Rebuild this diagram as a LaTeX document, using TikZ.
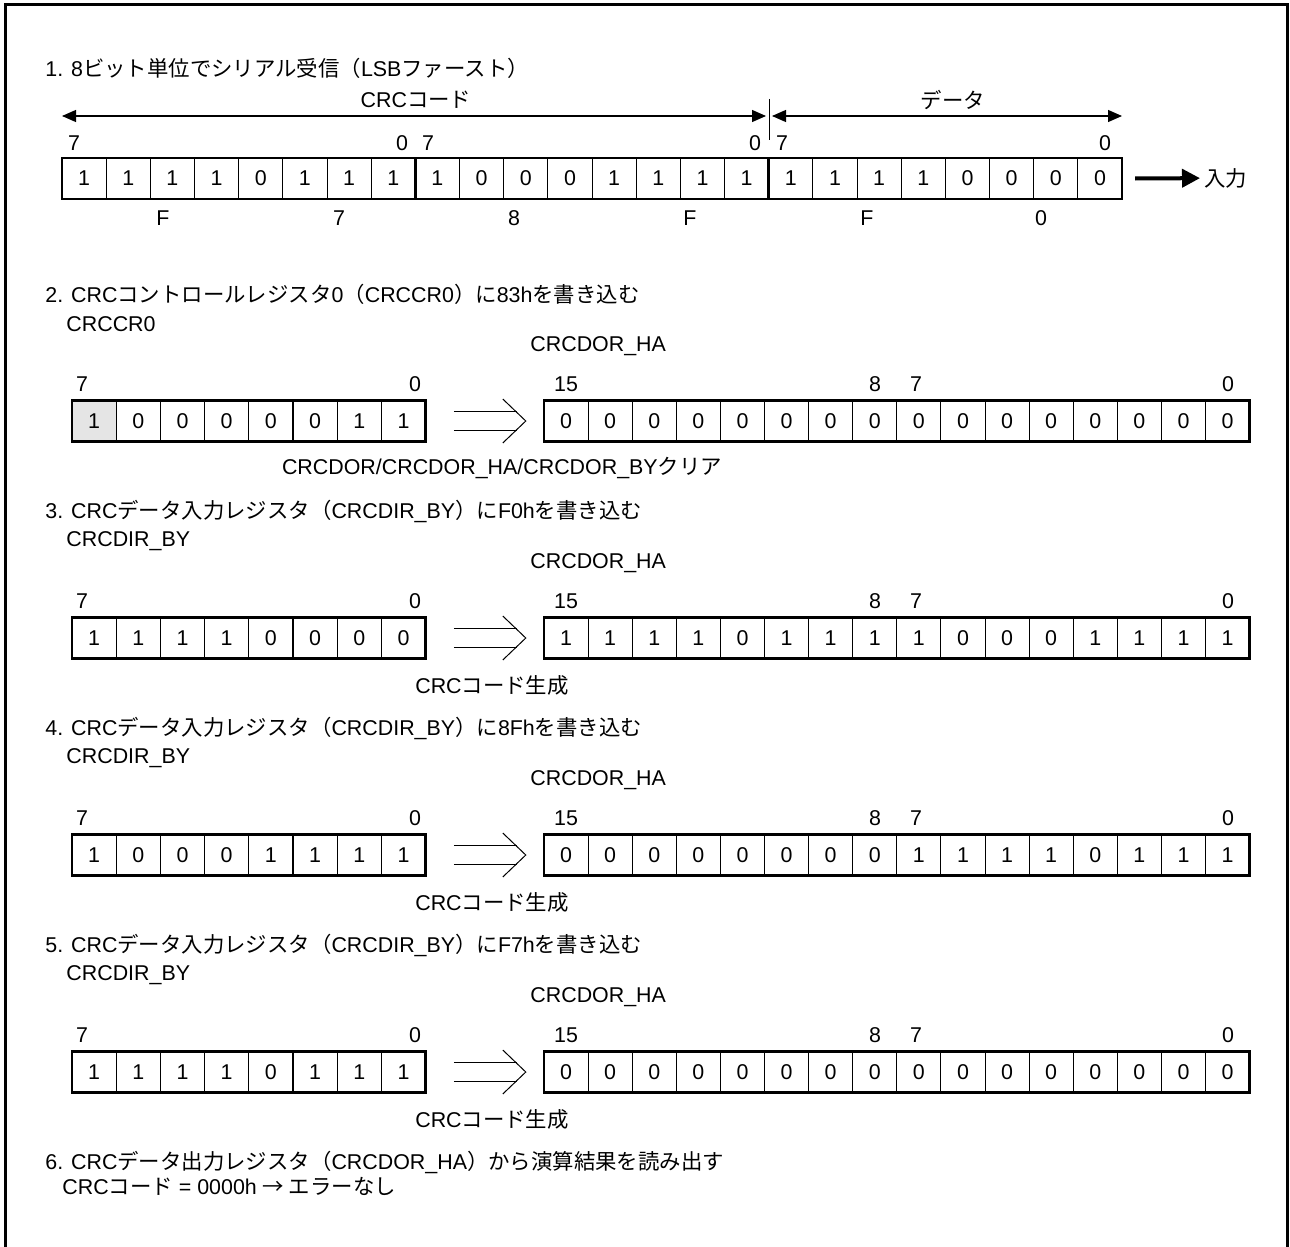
\documentclass[tikz,border=0pt]{standalone}
\usepackage{fontspec}
\setmainfont{Liberation Sans}
\newfontfamily\jpfont{Noto Sans CJK JP}
\newcommand{\jp}[1]{{\jpfont #1}}
\usetikzlibrary{arrows.meta, positioning, calc}

\begin{document}
\begin{tikzpicture}[x=0.5pt, y=-0.5pt,
    font=\fontsize{10.7}{12.8}\selectfont,
    heading/.style={anchor=west, inner sep=0pt},
    regname/.style={anchor=west, inner sep=0pt},
    bitnum/.style={inner sep=0pt},
    bitcell/.style={draw, line width=0.5pt, anchor=west, inner sep=0pt, outer sep=0pt,
                    minimum width=22.08pt, minimum height=20.5pt},
    regframe/.style={line width=1.3pt},
    dimarrow/.style={line width=0.6pt,
                     {Triangle[length=7pt,width=6pt]}-{Triangle[length=7pt,width=6pt]}},
    inarrow/.style={line width=2pt, -{Triangle[length=9pt,width=9pt]}, shorten >=2pt},
    thinline/.style={line width=0.5pt}
]
    \useasboundingbox (0,0) rectangle (1290,1247);

    % --- outer frame ---
    \draw[line width=1.5pt] (5,1247) -- (5,5) -- (1287,5) -- (1287,1247);

    % --- 1. serial receive ---
    \node[heading] (t1) at (45,68) {1. 8\jp{ビット単位でシリアル受信（}LSB\jp{ファースト）}};
    \foreach \v [count=\i from 0] in {1,1,1,1,0,1,1,1,1,0,0,0,1,1,1,1,1,1,1,1,0,0,0,0}
        \node[bitcell] (s1-\i) at (62+44.17*\i,178.5) {\v};
    \draw[regframe] (s1-0.north west) rectangle (s1-23.south east);
    \draw[regframe] (s1-8.north west) -- (s1-8.south west);
    \draw[regframe] (s1-16.north west) -- (s1-16.south west);

    \node[bitnum] (s1-b7a) at (74,143) {7};
    \node[bitnum] (s1-b0a) at (402,143) {0};
    \node[bitnum] (s1-b7b) at (428,143) {7};
    \node[bitnum] (s1-b0b) at (755,143) {0};
    \node[bitnum] (s1-b7c) at (782,143) {7};
    \node[bitnum] (s1-b0c) at (1105,143) {0};

    \node[bitnum] (s1-h1) at (163,218) {F};
    \node[bitnum] (s1-h2) at (339,218) {7};
    \node[bitnum] (s1-h3) at (514,218) {8};
    \node[bitnum] (s1-h4) at (690,218) {F};
    \node[bitnum] (s1-h5) at (867,218) {F};
    \node[bitnum] (s1-h6) at (1041,218) {0};

    \coordinate (crcL) at (62,116);
    \coordinate (crcR) at (766,116);
    \coordinate (datL) at (772,116);
    \coordinate (datR) at (1122,116);
    \draw[dimarrow] (crcL) -- (crcR);
    \draw[dimarrow] (datL) -- (datR);
    \draw[thinline] (769,99) -- (769,140);
    \node[bitnum] (crc) at (416,100) {CRC\jp{コード}};
    \node[bitnum] (dat) at (953,100) {\jp{データ}};

    \node[regname] (in) at (1204,178) {\jp{入力}};
    \draw[inarrow] ([shift={(13,0)}]s1-23.east) -- (in);

    % --- 2. CRCCR0 <- 83h ---
    \node[heading] (t2) at (45,294) {2. CRC\jp{コントロールレジスタ}0\jp{（}CRCCR0\jp{）に}83h\jp{を書き込む}};
    \node[regname] (n2l) at (66,324) {CRCCR0};
    \node[regname] (n2r) at (530,346) {CRCDOR\_HA};
    \node[bitcell, fill=black!10] (l2-0) at (72,421) {1};
    \foreach \v [count=\i from 1] in {0,0,0,0,0,1,1}
        \node[bitcell] (l2-\i) at (72+44.2*\i,421) {\v};
    \foreach \v [count=\i from 0] in {0,0,0,0,0,0,0,0,0,0,0,0,0,0,0,0}
        \node[bitcell] (r2-\i) at (544+44.1*\i,421) {\v};
    \draw[regframe] (l2-0.north west) rectangle (l2-7.south east);
    \draw[regframe] (r2-0.north west) rectangle (r2-15.south east);
    \node[bitnum] (l2-b7) at (82,384) {7};
    \node[bitnum] (l2-b0) at (415,384) {0};
    \node[bitnum] (r2-b15) at (566,384) {15};
    \node[bitnum] (r2-b8) at (875,384) {8};
    \node[bitnum] (r2-b7) at (916,384) {7};
    \node[bitnum] (r2-b0) at (1228,384) {0};
    \coordinate (a2) at ($(l2-7.east)!0.5!(r2-0.west)$);
    \draw[thinline] ([shift={(-31,-9.5)}]a2) -- ++(63,0);
    \draw[thinline] ([shift={(-31,9.5)}]a2) -- ++(63,0);
    \draw[thinline] ([shift={(18,-22)}]a2) -- ++(23,22) -- ++(-23,22);
    \node[bitnum] (m2) at (502,468) {CRCDOR/CRCDOR\_HA/CRCDOR\_BY\jp{クリア}};

    % --- 3. CRCDIR_BY <- F0h ---
    \node[heading] (t3) at (45,511) {3. CRC\jp{データ入力レジスタ（}CRCDIR\_BY\jp{）に}F0h\jp{を書き込む}};
    \node[regname] (n3l) at (66,541) {CRCDIR\_BY};
    \node[regname] (n3r) at (530,563) {CRCDOR\_HA};
    \foreach \v [count=\i from 0] in {1,1,1,1,0,0,0,0}
        \node[bitcell] (l3-\i) at (72+44.2*\i,638) {\v};
    \foreach \v [count=\i from 0] in {1,1,1,1,0,1,1,1,1,0,0,0,1,1,1,1}
        \node[bitcell] (r3-\i) at (544+44.1*\i,638) {\v};
    \draw[regframe] (l3-0.north west) rectangle (l3-7.south east);
    \draw[regframe] (r3-0.north west) rectangle (r3-15.south east);
    \node[bitnum] (l3-b7) at (82,601) {7};
    \node[bitnum] (l3-b0) at (415,601) {0};
    \node[bitnum] (r3-b15) at (566,601) {15};
    \node[bitnum] (r3-b8) at (875,601) {8};
    \node[bitnum] (r3-b7) at (916,601) {7};
    \node[bitnum] (r3-b0) at (1228,601) {0};
    \coordinate (a3) at ($(l3-7.east)!0.5!(r3-0.west)$);
    \draw[thinline] ([shift={(-31,-9.5)}]a3) -- ++(63,0);
    \draw[thinline] ([shift={(-31,9.5)}]a3) -- ++(63,0);
    \draw[thinline] ([shift={(18,-22)}]a3) -- ++(23,22) -- ++(-23,22);
    \node[bitnum] (m3) at (492,685) {CRC\jp{コード生成}};

    % --- 4. CRCDIR_BY <- 8Fh ---
    \node[heading] (t4) at (45,728) {4. CRC\jp{データ入力レジスタ（}CRCDIR\_BY\jp{）に}8Fh\jp{を書き込む}};
    \node[regname] (n4l) at (66,758) {CRCDIR\_BY};
    \node[regname] (n4r) at (530,780) {CRCDOR\_HA};
    \foreach \v [count=\i from 0] in {1,0,0,0,1,1,1,1}
        \node[bitcell] (l4-\i) at (72+44.2*\i,855) {\v};
    \foreach \v [count=\i from 0] in {0,0,0,0,0,0,0,0,1,1,1,1,0,1,1,1}
        \node[bitcell] (r4-\i) at (544+44.1*\i,855) {\v};
    \draw[regframe] (l4-0.north west) rectangle (l4-7.south east);
    \draw[regframe] (r4-0.north west) rectangle (r4-15.south east);
    \node[bitnum] (l4-b7) at (82,818) {7};
    \node[bitnum] (l4-b0) at (415,818) {0};
    \node[bitnum] (r4-b15) at (566,818) {15};
    \node[bitnum] (r4-b8) at (875,818) {8};
    \node[bitnum] (r4-b7) at (916,818) {7};
    \node[bitnum] (r4-b0) at (1228,818) {0};
    \coordinate (a4) at ($(l4-7.east)!0.5!(r4-0.west)$);
    \draw[thinline] ([shift={(-31,-9.5)}]a4) -- ++(63,0);
    \draw[thinline] ([shift={(-31,9.5)}]a4) -- ++(63,0);
    \draw[thinline] ([shift={(18,-22)}]a4) -- ++(23,22) -- ++(-23,22);
    \node[bitnum] (m4) at (492,902) {CRC\jp{コード生成}};

    % --- 5. CRCDIR_BY <- F7h ---
    \node[heading] (t5) at (45,945) {5. CRC\jp{データ入力レジスタ（}CRCDIR\_BY\jp{）に}F7h\jp{を書き込む}};
    \node[regname] (n5l) at (66,975) {CRCDIR\_BY};
    \node[regname] (n5r) at (530,997) {CRCDOR\_HA};
    \foreach \v [count=\i from 0] in {1,1,1,1,0,1,1,1}
        \node[bitcell] (l5-\i) at (72+44.2*\i,1072) {\v};
    \foreach \v [count=\i from 0] in {0,0,0,0,0,0,0,0,0,0,0,0,0,0,0,0}
        \node[bitcell] (r5-\i) at (544+44.1*\i,1072) {\v};
    \draw[regframe] (l5-0.north west) rectangle (l5-7.south east);
    \draw[regframe] (r5-0.north west) rectangle (r5-15.south east);
    \node[bitnum] (l5-b7) at (82,1035) {7};
    \node[bitnum] (l5-b0) at (415,1035) {0};
    \node[bitnum] (r5-b15) at (566,1035) {15};
    \node[bitnum] (r5-b8) at (875,1035) {8};
    \node[bitnum] (r5-b7) at (916,1035) {7};
    \node[bitnum] (r5-b0) at (1228,1035) {0};
    \coordinate (a5) at ($(l5-7.east)!0.5!(r5-0.west)$);
    \draw[thinline] ([shift={(-31,-9.5)}]a5) -- ++(63,0);
    \draw[thinline] ([shift={(-31,9.5)}]a5) -- ++(63,0);
    \draw[thinline] ([shift={(18,-22)}]a5) -- ++(23,22) -- ++(-23,22);
    \node[bitnum] (m5) at (492,1119) {CRC\jp{コード生成}};

    % --- 6. read result ---
    \node[heading] (t6) at (45,1162) {6. CRC\jp{データ出力レジスタ（}CRCDOR\_HA\jp{）から演算結果を読み出す}};
    \node[heading] (r6) at (62,1186) {CRC\jp{コード} = 0000h \jp{→ エラーなし}};
\end{tikzpicture}
\end{document}
